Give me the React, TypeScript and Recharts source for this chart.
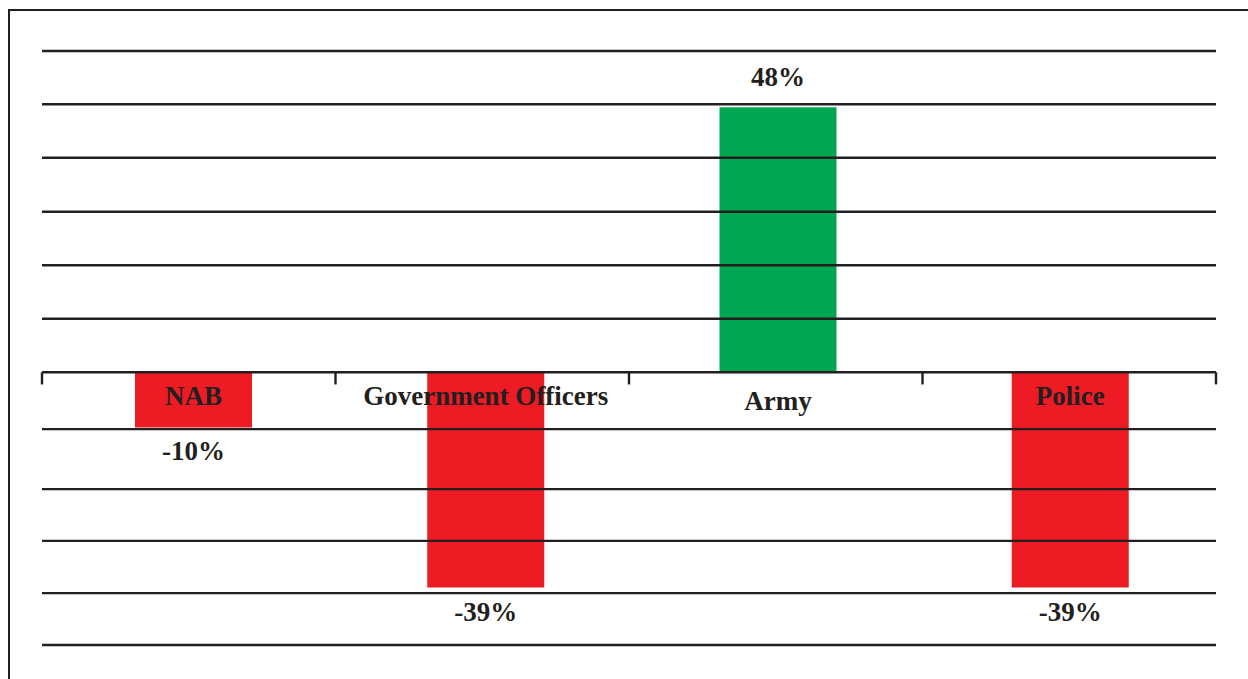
import React from 'react';
import { ComposedChart, Bar, XAxis, YAxis, ReferenceLine, LabelList, Cell } from 'recharts';

// ---- data ----
const categories = ['NAB', 'Government Officers', 'Army', 'Police'];
const values = [-10, -39, 48, -39];
const valueLabels = ['-10%', '-39%', '48%', '-39%'];
// horizontal rule positions (in % units of the value scale)
const gridValues = [58.2, 48.55, 38.86, 29.08, 19.38, 9.69, -10.29, -21.16, -30.53, -40.0, -49.4];
// category boundary tick positions (band index units)
const boundaryTicks = [0, 1, 2, 3, 4];

const data = categories.map((name, i) => ({ name, value: values[i], label: valueLabels[i] }));

// ---- styles ----
const INK = '#231f20';
const RED = '#ed1c24';
const GREEN = '#00a651';
const TEXT_STYLE = {
  fontFamily: '"Liberation Serif", "Times New Roman", Times, serif',
  fontWeight: 700,
  fontSize: 27,
  fill: INK,
};
const TICK_DEPTH = -2.2;
const LINE_W = 2.4;

function geom(props: any) {
  const vb = props.viewBox || {};
  const x = Number(props.x ?? vb.x);
  const y = Number(props.y ?? vb.y);
  const w = Number(props.width ?? vb.width);
  const h = Number(props.height ?? vb.height);
  const idx = Number(props.index);
  const v = values[idx];
  const lo = Math.min(y, y + h);
  const hi = Math.max(y, y + h);
  const zeroY = v >= 0 ? hi : lo;
  const endY = v >= 0 ? lo : hi;
  return { cx: x + w / 2, zeroY, endY, v, idx };
}

const CategoryLabel = (props: any) => {
  const { cx, zeroY, idx } = geom(props);
  const extra = values[idx] >= 0 ? 5 : 0;
  return (
    <text x={cx} y={zeroY + 33 + extra} textAnchor="middle" style={TEXT_STYLE as any}>
      {categories[idx]}
    </text>
  );
};

const ValueLabel = (props: any) => {
  const { cx, endY, v, idx } = geom(props);
  const y = v >= 0 ? endY - 21 : endY + 33;
  return (
    <text x={cx} y={y} textAnchor="middle" style={TEXT_STYLE as any}>
      {valueLabels[idx]}
    </text>
  );
};

export default function App() {
  const yDomain = [Math.min(...gridValues), Math.max(...gridValues)];
  const xDomain = [Math.min(...boundaryTicks), Math.max(...boundaryTicks)];
  return (
    <div style={{ position: 'absolute', left: 0, top: 0, width: 1248, height: 679, background: '#fff', overflow: 'hidden' }}>
      <div
        style={{
          position: 'absolute',
          left: 8,
          top: 9,
          width: 1260,
          height: 700,
          borderLeft: `2px solid ${INK}`,
          borderTop: `2px solid ${INK}`,
        }}
      />
      <div style={{ position: 'absolute', left: 0, top: 0 }}>
        <ComposedChart
          width={1248}
          height={679}
          data={data}
          margin={{ top: 51, right: 32, bottom: 34, left: 42 }}
        >
          <XAxis xAxisId="cat" dataKey="name" type="category" hide padding={{ left: 5, right: 0 }} />
          <XAxis
            xAxisId="bound"
            dataKey="value"
            type="number"
            domain={xDomain}
            hide
            allowDataOverflow
          />
          <YAxis hide domain={yDomain} allowDataOverflow />
          {gridValues.map((g) => (
            <ReferenceLine
              key={`g${g}`}
              xAxisId="bound"
              y={g}
              stroke={INK}
              strokeWidth={LINE_W}
              ifOverflow="visible"
            />
          ))}
          <ReferenceLine xAxisId="bound" y={0} stroke={INK} strokeWidth={LINE_W} ifOverflow="visible" />
          {boundaryTicks.map((t) => (
            <ReferenceLine
              key={`t${t}`}
              xAxisId="bound"
              segment={[
                { x: t, y: 0 },
                { x: t, y: TICK_DEPTH },
              ]}
              stroke={INK}
              strokeWidth={LINE_W}
              ifOverflow="visible"
            />
          ))}
          <Bar xAxisId="cat" dataKey="value" barSize={117} isAnimationActive={false}>
            {data.map((d, i) => (
              <Cell key={`c${i}`} fill={d.value >= 0 ? GREEN : RED} />
            ))}
            <LabelList dataKey="name" content={CategoryLabel} />
            <LabelList dataKey="label" content={ValueLabel} />
          </Bar>
        </ComposedChart>
      </div>
    </div>
  );
}
